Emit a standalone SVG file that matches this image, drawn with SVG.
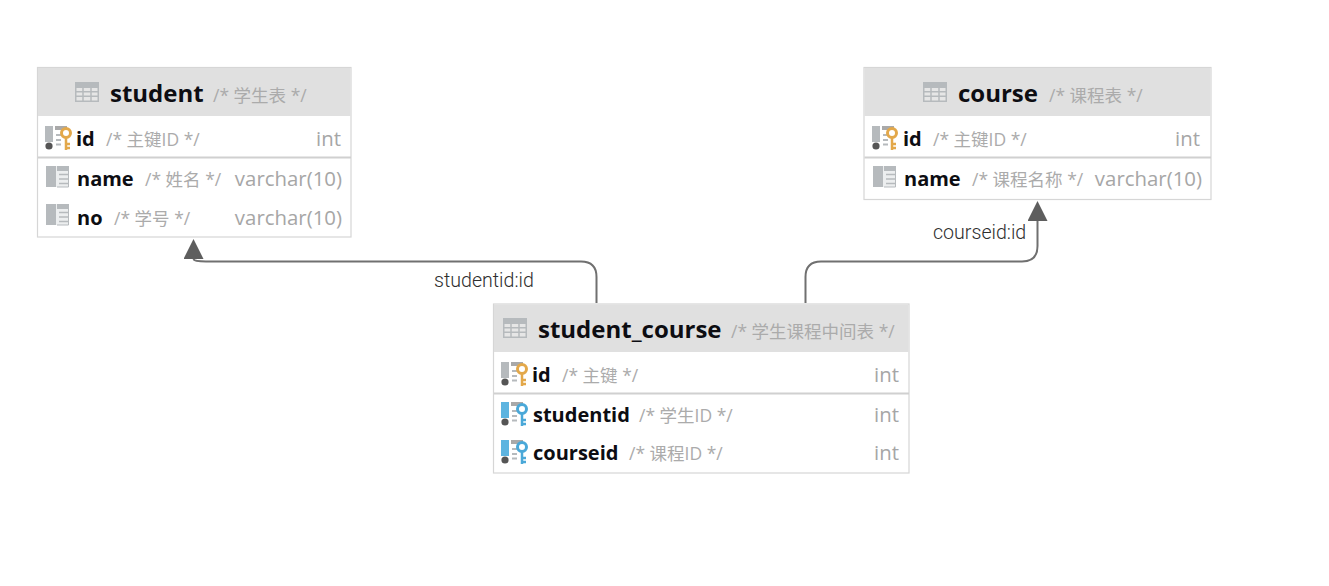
<svg xmlns="http://www.w3.org/2000/svg" width="1329" height="586" viewBox="0 0 1329 586">
<style>
text{font-family:"Open Sans","Noto Sans","Noto Sans CJK SC",sans-serif}
.box{fill:#fff;stroke:#d6d6d6;stroke-width:1.2}
.hd{fill:#e0e0e0}
.div{stroke:#d0d0d0;stroke-width:2}
.title{font-size:24px;font-weight:700;fill:#0d0d12}
.col{font-size:20px;font-weight:700;fill:#0d0d12}
.cm{font-size:17.500px;fill:#ababab}
.ty{font-size:20.400px;fill:#a6a6a6;text-anchor:end}
.lb{font-family:Roboto,"Liberation Sans",sans-serif;font-size:19.600px;font-weight:300;fill:#2e2e2e}
.ln{fill:none;stroke:#707070;stroke-width:2}
</style>
<defs>
<marker id="arr" markerUnits="userSpaceOnUse" markerWidth="22" markerHeight="22" refX="10" refY="20" orient="0"><path d="M10 0L20 20H0Z" fill="#5e5e5e"/></marker>
<symbol id="tbl" width="24" height="20" viewBox="0 0 24 20"><rect width="24" height="20" fill="#b6babd"/><path d="M1.500 6h21v3h-21zM1.500 10.500h21v3h-21zM1.500 15h21v3.500h-21z" fill="#e6e6e6"/><path d="M8 6v13M16 6v13" stroke="#b6babd" stroke-width="1.500"/></symbol>
<symbol id="col" width="24" height="22" viewBox="0 0 24 22"><rect width="10" height="21" fill="#b6babd"/><rect x="10" width="13" height="21" fill="#eceeef"/><rect x="11" width="12" height="5" fill="#b6babd"/><path d="M13 8.500h10M13 13h10M13 17.500h10" stroke="#b6babd" stroke-width="1.600"/><path d="M22.500 5v16H11" stroke="#b6babd" stroke-width="1" fill="none"/></symbol>
<symbol id="keyP" width="22" height="24" viewBox="0 0 22 24"><rect width="8" height="16" fill="#b6babd"/><rect x="10" width="12" height="4" fill="#a9a9a9"/><path d="M11 9h5M11 14h5M11 18.500h5" stroke="#b6babd" stroke-width="2"/><circle cx="4" cy="20" r="3.600" fill="#555"/></symbol>
<symbol id="keyF" width="22" height="24" viewBox="0 0 22 24"><rect width="8" height="16" fill="#5db4e0"/><rect x="10" width="12" height="4" fill="#a9a9a9"/><path d="M11 9h5M11 14h5M11 18.500h5" stroke="#b6babd" stroke-width="2"/><circle cx="4" cy="20" r="3.600" fill="#555"/></symbol>
<g id="kO"><circle cx="0" cy="0" r="4.500" fill="none" stroke="#e3a84a" stroke-width="3"/><path d="M0 4v13M0 11h4M0 15h4" stroke="#e3a84a" stroke-width="2.500" fill="none"/></g>
<g id="kB"><circle cx="0" cy="0" r="4.500" fill="none" stroke="#4aa8d8" stroke-width="3"/><path d="M0 4v13M0 11h4M0 15h4" stroke="#4aa8d8" stroke-width="2.500" fill="none"/></g>
</defs>
<rect width="1329" height="586" fill="#fff"/>
<g id="connectors">
<path class="ln" d="M596.500 303V277Q596.500 261.500 581 261.500H206Q194 261.500 193.500 259" marker-end="url(#arr)"/>
<path class="ln" d="M805.500 303V277Q805.500 261.500 821 261.500H1022Q1037.500 261.500 1037.500 246V221" marker-end="url(#arr)"/>
<text class="lb" x="434" y="286.500">studentid:id</text>
<text class="lb" x="933" y="239">courseid:id</text>
</g>
<g id="student">
<rect class="box" x="37.500" y="67.500" width="313.500" height="169.500"/>
<rect class="hd" x="38" y="68" width="312.500" height="48"/>
<use href="#tbl" x="75" y="82"/>
<text class="title" x="110" y="101.500">student</text><text class="cm" x="213" y="102">/* 学生表 */</text>
<path class="div" d="M38 157.500H351"/>
<use href="#keyP" x="45" y="126"/><use href="#kO" x="66" y="133"/>
<text class="col" x="76" y="146">id</text><text class="cm" x="106" y="146">/* 主键ID */</text><text class="ty" x="341" y="146">int</text>
<use href="#col" x="46" y="166"/>
<text class="col" x="77" y="185.500">name</text><text class="cm" x="145" y="185.500">/* 姓名 */</text><text class="ty" x="342" y="185.500">varchar(10)</text>
<use href="#col" x="46" y="204"/>
<text class="col" x="77" y="224.500">no</text><text class="cm" x="114" y="224.500">/* 学号 */</text><text class="ty" x="342" y="224.500">varchar(10)</text>
</g>
<g id="course">
<rect class="box" x="864" y="67.500" width="347" height="132"/>
<rect class="hd" x="864.500" y="68" width="346" height="48"/>
<use href="#tbl" x="923" y="82"/>
<text class="title" x="958" y="101.500">course</text><text class="cm" x="1049" y="102">/* 课程表 */</text>
<path class="div" d="M864.500 157.500H1211"/>
<use href="#keyP" x="872" y="126"/><use href="#kO" x="892" y="133"/>
<text class="col" x="903" y="146">id</text><text class="cm" x="933" y="146">/* 主键ID */</text><text class="ty" x="1200" y="146">int</text>
<use href="#col" x="873" y="166"/>
<text class="col" x="904" y="185.500">name</text><text class="cm" x="972" y="185.500">/* 课程名称 */</text><text class="ty" x="1202" y="185.500">varchar(10)</text>
</g>
<g id="student_course">
<rect class="box" x="493.500" y="304" width="415.500" height="169"/>
<rect class="hd" x="494" y="304.500" width="414.500" height="47.500"/>
<use href="#tbl" x="503" y="318"/>
<text class="title" x="538" y="338">student_course</text><text class="cm" x="731" y="338">/* 学生课程中间表 */</text>
<path class="div" d="M494 393.500H909"/>
<use href="#keyP" x="501" y="362"/><use href="#kO" x="522" y="369"/>
<text class="col" x="532" y="382">id</text><text class="cm" x="562" y="382">/* 主键 */</text><text class="ty" x="899" y="382">int</text>
<use href="#keyF" x="501" y="402"/><use href="#kB" x="522" y="409"/>
<text class="col" x="533" y="421.500">studentid</text><text class="cm" x="639" y="421.500">/* 学生ID */</text><text class="ty" x="899" y="421.500">int</text>
<use href="#keyF" x="501" y="440"/><use href="#kB" x="522" y="447"/>
<text class="col" x="533" y="460">courseid</text><text class="cm" x="629" y="460">/* 课程ID */</text><text class="ty" x="899" y="460">int</text>
</g>
</svg>
